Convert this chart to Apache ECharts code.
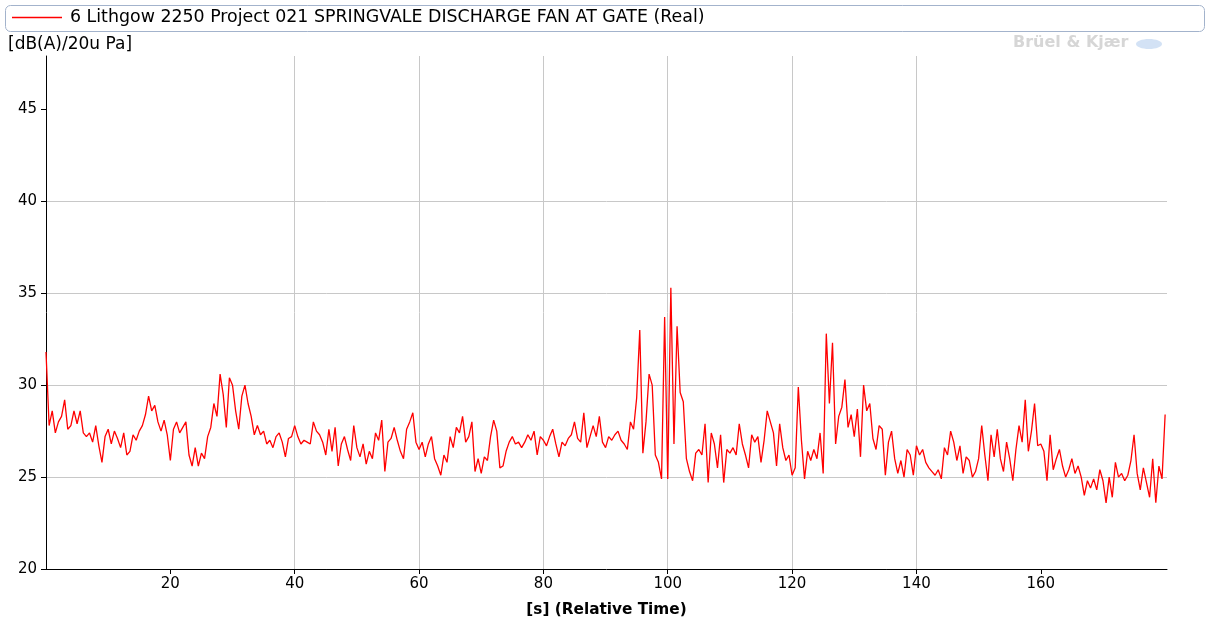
<!DOCTYPE html>
<html>
<head>
<meta charset="utf-8">
<title>SPRINGVALE DISCHARGE FAN AT GATE</title>
<script src="https://cdn.jsdelivr.net/npm/echarts@6/dist/echarts.min.js"></script>
<style>
  html, body { margin: 0; padding: 0; background: #fff; }
  #echarts-level-chart { width: 1211px; height: 623px; }
</style>
</head>
<body>
<div id="echarts-level-chart"></div>
<script>
// 数据
var seriesName = '6 Lithgow 2250 Project 021 SPRINGVALE DISCHARGE FAN AT GATE (Real)';
var sampleStep = 0.5; // s
var xTicks = [20, 40, 60, 80, 100, 120, 140, 160];
var yTicks = [20, 25, 30, 35, 40, 45];
var levels = [
    31.8, 27.8, 28.6, 27.4, 28.0, 28.3, 29.2, 27.6, 27.8, 28.6,
    27.9, 28.6, 27.4, 27.2, 27.4, 26.9, 27.8, 26.7, 25.8, 27.2,
    27.6, 26.8, 27.5, 27.1, 26.6, 27.4, 26.2, 26.4, 27.3, 27.0,
    27.5, 27.8, 28.4, 29.4, 28.6, 28.9, 28.0, 27.5, 28.1, 27.3,
    25.9, 27.6, 28.0, 27.4, 27.7, 28.0, 26.2, 25.6, 26.6, 25.6,
    26.3, 26.0, 27.2, 27.7, 29.0, 28.3, 30.6, 29.5, 27.7, 30.4,
    30.0, 28.6, 27.6, 29.4, 30.0, 29.0, 28.3, 27.3, 27.8, 27.3,
    27.5, 26.8, 27.0, 26.6, 27.2, 27.4, 26.9, 26.1, 27.1, 27.2,
    27.8, 27.2, 26.8, 27.0, 26.9, 26.8, 28.0, 27.5, 27.3, 26.9,
    26.2, 27.6, 26.4, 27.7, 25.6, 26.8, 27.2, 26.5, 25.9, 27.8,
    26.6, 26.1, 26.8, 25.7, 26.4, 26.0, 27.4, 27.0, 28.1, 25.3,
    26.9, 27.1, 27.7, 27.0, 26.4, 26.0, 27.6, 28.0, 28.5, 26.9,
    26.5, 26.9, 26.1, 26.8, 27.2, 26.0, 25.6, 25.1, 26.2, 25.8,
    27.2, 26.6, 27.7, 27.4, 28.3, 26.9, 27.2, 28.0, 25.3, 26.0,
    25.2, 26.1, 25.9, 27.2, 28.1, 27.5, 25.5, 25.6, 26.4, 26.9,
    27.2, 26.8, 26.9, 26.6, 26.9, 27.3, 27.0, 27.5, 26.2, 27.2,
    27.0, 26.7, 27.2, 27.6, 26.8, 26.1, 26.9, 26.7, 27.1, 27.3,
    28.0, 27.1, 26.9, 28.5, 26.6, 27.2, 27.8, 27.2, 28.3, 26.9,
    26.6, 27.2, 27.0, 27.3, 27.5, 27.0, 26.8, 26.5, 28.0, 27.6,
    29.3, 33.0, 26.3, 28.0, 30.6, 30.0, 26.2, 25.8, 24.9, 33.7,
    24.9, 35.3, 26.8, 33.2, 29.6, 29.1, 26.0, 25.3, 24.8, 26.3,
    26.5, 26.2, 27.9, 24.7, 27.4, 26.8, 25.5, 27.3, 24.7, 26.5,
    26.3, 26.6, 26.2, 27.9, 26.8, 26.2, 25.5, 27.3, 26.9, 27.2,
    25.8, 27.0, 28.6, 28.0, 27.4, 25.6, 27.9, 26.6, 25.9, 26.2,
    25.1, 25.5, 29.9, 27.0, 24.9, 26.4, 25.9, 26.5, 26.0, 27.4,
    25.2, 32.8, 29.0, 32.3, 26.8, 28.3, 28.8, 30.3, 27.7, 28.4,
    27.2, 28.7, 26.1, 30.0, 28.6, 29.0, 27.1, 26.5, 27.8, 27.6,
    25.1, 26.9, 27.5, 26.0, 25.2, 25.9, 25.0, 26.5, 26.2, 25.1,
    26.7, 26.2, 26.5, 25.8, 25.5, 25.3, 25.1, 25.4, 24.9, 26.6,
    26.2, 27.5, 26.9, 25.9, 26.7, 25.2, 26.1, 25.9, 25.0, 25.3,
    26.0, 27.8, 26.2, 24.8, 27.3, 26.1, 27.6, 26.0, 25.3, 26.9,
    26.0, 24.8, 26.5, 27.8, 26.9, 29.2, 26.4, 27.5, 29.0, 26.7,
    26.8, 26.4, 24.8, 27.3, 25.4, 26.0, 26.5, 25.6, 25.0, 25.4,
    26.0, 25.2, 25.6, 25.0, 24.0, 24.8, 24.4, 24.9, 24.3, 25.4,
    24.8, 23.6, 25.0, 23.9, 25.8, 25.0, 25.2, 24.8, 25.1, 25.9,
    27.3, 25.2, 24.3, 25.5, 24.7, 23.9, 26.0, 23.6, 25.6, 24.9,
    28.4
];

var fontFamily = '"DejaVu Sans", "Liberation Sans", sans-serif';

function initChart() {
    var seriesData = [];
    for (var i = 0; i < levels.length; i++) {
        seriesData.push([i * sampleStep, levels[i]]);
    }

    var option = {
        animation: false,
        textStyle: { fontFamily: fontFamily },
        legend: {
            left: 12,
            top: 9,
            z: 5,
            padding: 0,
            icon: 'rect',
            itemWidth: 50,
            itemHeight: 1.5,
            textStyle: { fontSize: 17.4, color: '#000', fontFamily: fontFamily, padding: [0, 0, 0, 3] },
            data: [seriesName]
        },
        graphic: [
            {
                type: 'rect',
                z: 0,
                shape: { x: 5.5, y: 5.5, width: 1199, height: 26, r: 5 },
                style: { fill: '#fff', stroke: '#a3b3cc', lineWidth: 1 }
            },
            {
                type: 'text',
                left: 8,
                top: 36,
                style: { text: '[dB(A)/20u Pa]', fill: '#000', font: '17px ' + fontFamily }
            },
            {
                type: 'text',
                left: 1013,
                top: 35,
                style: { text: 'Brüel & Kjær', fill: '#d6d6d6', font: 'bold 16px ' + fontFamily }
            },
            {
                type: 'ellipse',
                shape: { cx: 1149, cy: 44, rx: 13, ry: 5 },
                style: { fill: '#d3e2f5' }
            }
        ],
        grid: {
            left: 46,
            right: 44,
            top: 56,
            bottom: 54
        },
        xAxis: {
            type: 'value',
            min: 0,
            max: 180.3,
            interval: 20,
            name: '[s] (Relative Time)',
            nameLocation: 'middle',
            nameGap: 34,
            nameTextStyle: { fontSize: 15.3, fontWeight: 'bold', color: '#000', fontFamily: fontFamily },
            axisLine: { onZero: false, lineStyle: { color: '#000', width: 1 } },
            axisTick: { show: true, length: 5, customValues: xTicks, lineStyle: { color: '#000' } },
            axisLabel: {
                customValues: xTicks,
                margin: 8,
                fontSize: 15,
                color: '#000',
                fontFamily: fontFamily
            },
            splitLine: {
                show: true,
                showMinLine: false,
                showMaxLine: false,
                lineStyle: { color: '#c8c8c8', width: 1 }
            }
        },
        yAxis: {
            type: 'value',
            min: 20,
            max: 47.9,
            interval: 5,
            axisLine: { show: true, lineStyle: { color: '#000', width: 1 } },
            axisTick: { show: true, length: 5, customValues: yTicks, lineStyle: { color: '#000' } },
            axisLabel: {
                customValues: yTicks,
                margin: 9,
                fontSize: 15,
                color: '#000',
                fontFamily: fontFamily
            },
            splitLine: {
                show: true,
                showMinLine: false,
                showMaxLine: false,
                lineStyle: { color: '#c8c8c8', width: 1 }
            }
        },
        series: [{
            name: seriesName,
            type: 'line',
            data: seriesData,
            showSymbol: false,
            symbol: 'none',
            sampling: null,
            color: '#ff0000',
            lineStyle: { color: '#ff0000', width: 1.3 }
        }]
    };

    echarts.init(document.getElementById('echarts-level-chart')).setOption(option);
}

initChart();
</script>
</body>
</html>
